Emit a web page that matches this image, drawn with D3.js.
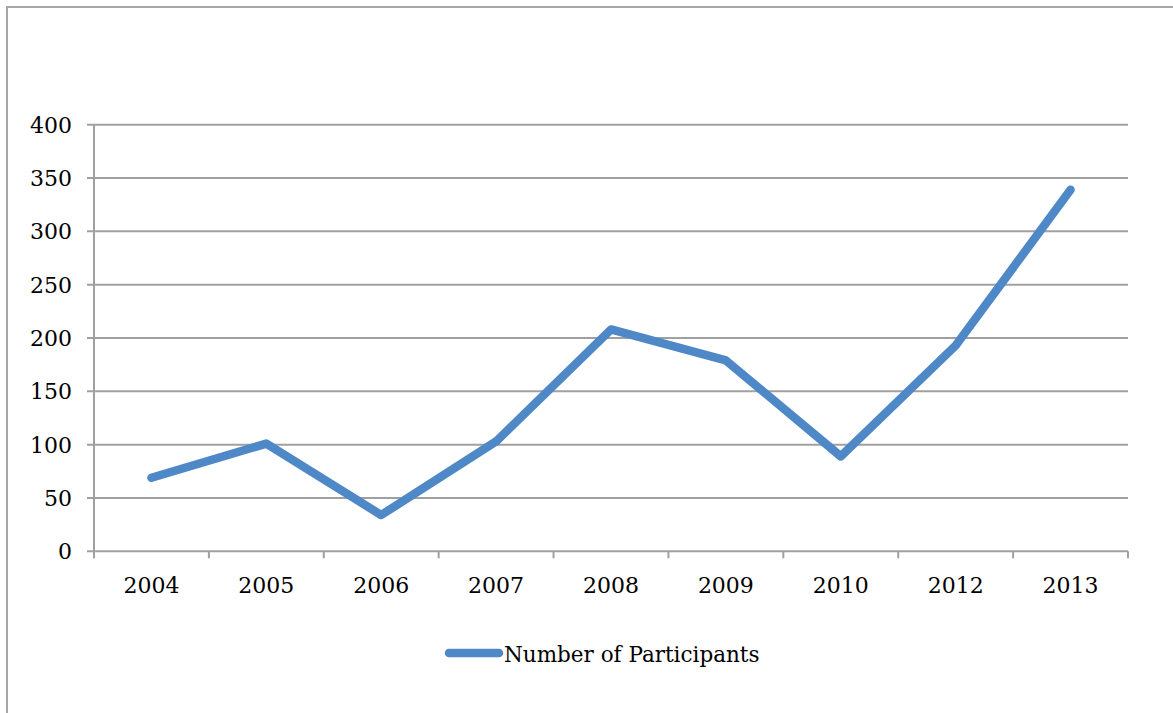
<!DOCTYPE html>
<html>
<head>
<meta charset="utf-8">
<script src="https://cdn.jsdelivr.net/npm/d3@7"></script>
<style>
  body { margin: 0; background: #fff; }
  svg { display: block; }
  text { font-family: "DejaVu Serif", serif; fill: #000; }
</style>
</head>
<body>
<svg width="1173" height="713"></svg>
<script>
// chart data
const years = ['2004', '2005', '2006', '2007', '2008', '2009', '2010', '2012', '2013'];
const participants = [69, 101, 34, 103, 208, 179, 89, 193, 339];
const yTicks = [0, 50, 100, 150, 200, 250, 300, 350, 400];
const seriesName = 'Number of Participants';

const svg = d3.select('svg');
const plotLeft = 94, plotRight = 1128, plotTop = 124.7, plotBottom = 551.3;

// outer frame (only top and left visible)
svg.append('rect')
    .attr('x', 7).attr('y', 7)
    .attr('width', 1200).attr('height', 800)
    .attr('fill', 'none')
    .attr('stroke', '#a6a6a6')
    .attr('stroke-width', 2);

const x = d3.scaleBand().domain(years).range([plotLeft, plotRight]);
const y = d3.scaleLinear().domain([0, 400]).range([plotBottom, plotTop]);

// gridlines
svg.append('g')
    .selectAll('line')
    .data(yTicks)
    .join('line')
    .attr('x1', plotLeft - 7).attr('x2', plotRight)
    .attr('y1', d => y(d)).attr('y2', d => y(d))
    .attr('stroke', '#a0a0a0')
    .attr('stroke-width', 2);

// y axis line + labels
svg.append('line')
    .attr('x1', plotLeft).attr('x2', plotLeft)
    .attr('y1', plotTop).attr('y2', plotBottom + 6)
    .attr('stroke', '#a0a0a0').attr('stroke-width', 2);

svg.append('g')
    .selectAll('text')
    .data(yTicks)
    .join('text')
    .attr('x', 72)
    .attr('y', d => y(d))
    .attr('dy', '0.36em')
    .attr('text-anchor', 'end')
    .style('font-size', '22px')
    .text(d => d);

// x axis ticks at band edges
const edges = years.map(d => x(d)).concat([plotRight]);
svg.append('g')
    .selectAll('line')
    .data(edges)
    .join('line')
    .attr('x1', d => d).attr('x2', d => d)
    .attr('y1', plotBottom).attr('y2', plotBottom + 7)
    .attr('stroke', '#a0a0a0').attr('stroke-width', 2);

svg.append('g')
    .selectAll('text')
    .data(years)
    .join('text')
    .attr('x', d => x(d) + x.bandwidth() / 2)
    .attr('y', 593)
    .attr('text-anchor', 'middle')
    .style('font-size', '22px')
    .text(d => d);

// the series line
const line = d3.line()
    .x((d, i) => x(years[i]) + x.bandwidth() / 2)
    .y(d => y(d));

svg.append('path')
    .datum(participants)
    .attr('d', line)
    .attr('fill', 'none')
    .attr('stroke', '#4f88c7')
    .attr('stroke-width', 8.5)
    .attr('stroke-linejoin', 'round')
    .attr('stroke-linecap', 'round');

// legend
svg.append('line')
    .attr('x1', 449).attr('x2', 499)
    .attr('y1', 653).attr('y2', 653)
    .attr('stroke', '#4f88c7')
    .attr('stroke-width', 8.5)
    .attr('stroke-linecap', 'round');

svg.append('text')
    .attr('x', 504).attr('y', 662)
    .style('font-size', '21.5px')
    .text(seriesName);
</script>
</body>
</html>
